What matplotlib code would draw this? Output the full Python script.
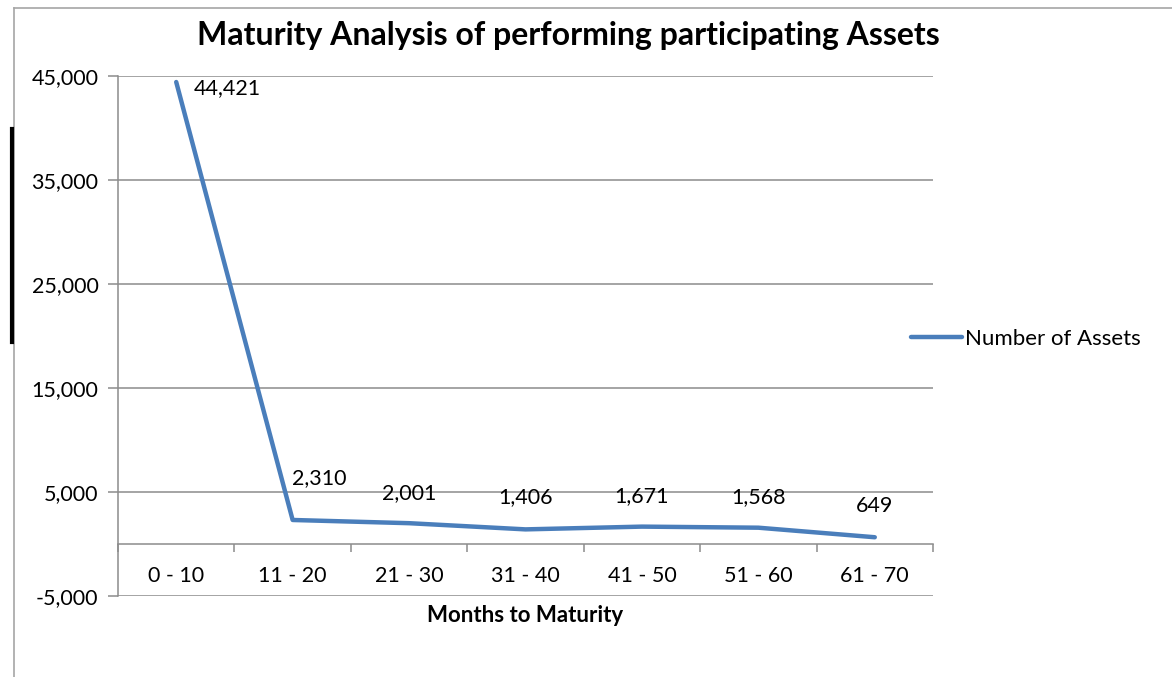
import matplotlib.pyplot as plt
from matplotlib.lines import Line2D
from matplotlib.ticker import FuncFormatter, FixedLocator

plt.rcParams['font.family'] = ['Lato', 'DejaVu Sans']

# Data
categories = ['0 - 10', '11 - 20', '21 - 30', '31 - 40', '41 - 50', '51 - 60', '61 - 70']
assets = [44421, 2310, 2001, 1406, 1671, 1568, 649]
series_name = 'Number of Assets'
y_ticks = [-5000, 5000, 15000, 25000, 35000, 45000]

# label offsets (pixels) relative to each point
label_offsets = [(51, -6), (27, 42), (0, 30), (0, 32), (0, 31), (0, 31), (0, 31)]

grey = '#8c8c8c'
blue = '#4a7ebb'

fig = plt.figure(figsize=(11.72, 6.77), dpi=100)
ax = fig.add_axes([118 / 1172, 1 - 596 / 677, 815 / 1172, 520 / 677])

x = list(range(len(categories)))
ax.plot(x, assets, color=blue, linewidth=3.2, solid_capstyle='round',
        solid_joinstyle='round', label=series_name, zorder=3)

for xi, v, (dx, dy) in zip(x, assets, label_offsets):
    ax.annotate('{:,}'.format(v), (xi, v), xytext=(dx, dy),
                textcoords='offset pixels', ha='center', va='center',
                fontsize=15.5, color='black')

ax.set_xlim(-0.5, len(categories) - 0.5)
ax.set_ylim(-5000, 45000)

# y axis
ax.yaxis.set_major_locator(FixedLocator(y_ticks))
ax.yaxis.set_major_formatter(FuncFormatter(lambda v, p: '{:,.0f}'.format(v)))
ax.tick_params(axis='y', direction='out', length=7, width=1.1, color=grey,
               labelsize=15.5, pad=7)
ax.grid(axis='y', color=grey, linewidth=1.1)
ax.set_axisbelow(True)

# x axis sits at zero
ax.spines['bottom'].set_position(('data', 0))
ax.spines['bottom'].set_color(grey)
ax.spines['bottom'].set_linewidth(1.1)
ax.spines['left'].set_color(grey)
ax.spines['left'].set_linewidth(1.1)
ax.spines['top'].set_visible(False)
ax.spines['right'].set_visible(False)

ax.set_xticks(x)
ax.set_xticklabels(categories)
ax.set_xticks([i - 0.5 for i in range(len(categories) + 1)], minor=True)
ax.tick_params(axis='x', which='major', length=0, labelsize=15.5, pad=16)
ax.tick_params(axis='x', which='minor', direction='out', length=6,
               width=1.1, color=grey)

fig.text(568 / 1172, 1 - 35 / 677, 'Maturity Analysis of performing participating Assets',
         ha='center', va='center', fontsize=23, fontweight='bold')
fig.text(525 / 1172, 1 - 616 / 677, 'Months to Maturity',
         ha='center', va='center', fontsize=16, fontweight='bold')

ax.legend(loc='center left', bbox_to_anchor=(911 / 1172, 1 - 339 / 677),
          bbox_transform=fig.transFigure, frameon=False, fontsize=16,
          handlelength=2.3, handletextpad=0.13, borderpad=0, borderaxespad=0)

# chart frame and stray bar on the left
fig.add_artist(Line2D([14 / 1172, 14 / 1172], [0, 1 - 8 / 677],
                      transform=fig.transFigure, color='#a6a6a6', linewidth=1.2))
fig.add_artist(Line2D([14 / 1172, 1], [1 - 8 / 677, 1 - 8 / 677],
                      transform=fig.transFigure, color='#a6a6a6', linewidth=1.2))
fig.add_artist(Line2D([11.5 / 1172, 11.5 / 1172], [1 - 342 / 677, 1 - 129 / 677],
                      transform=fig.transFigure, color='black', linewidth=3))

fig.savefig('out.png', dpi=100)
